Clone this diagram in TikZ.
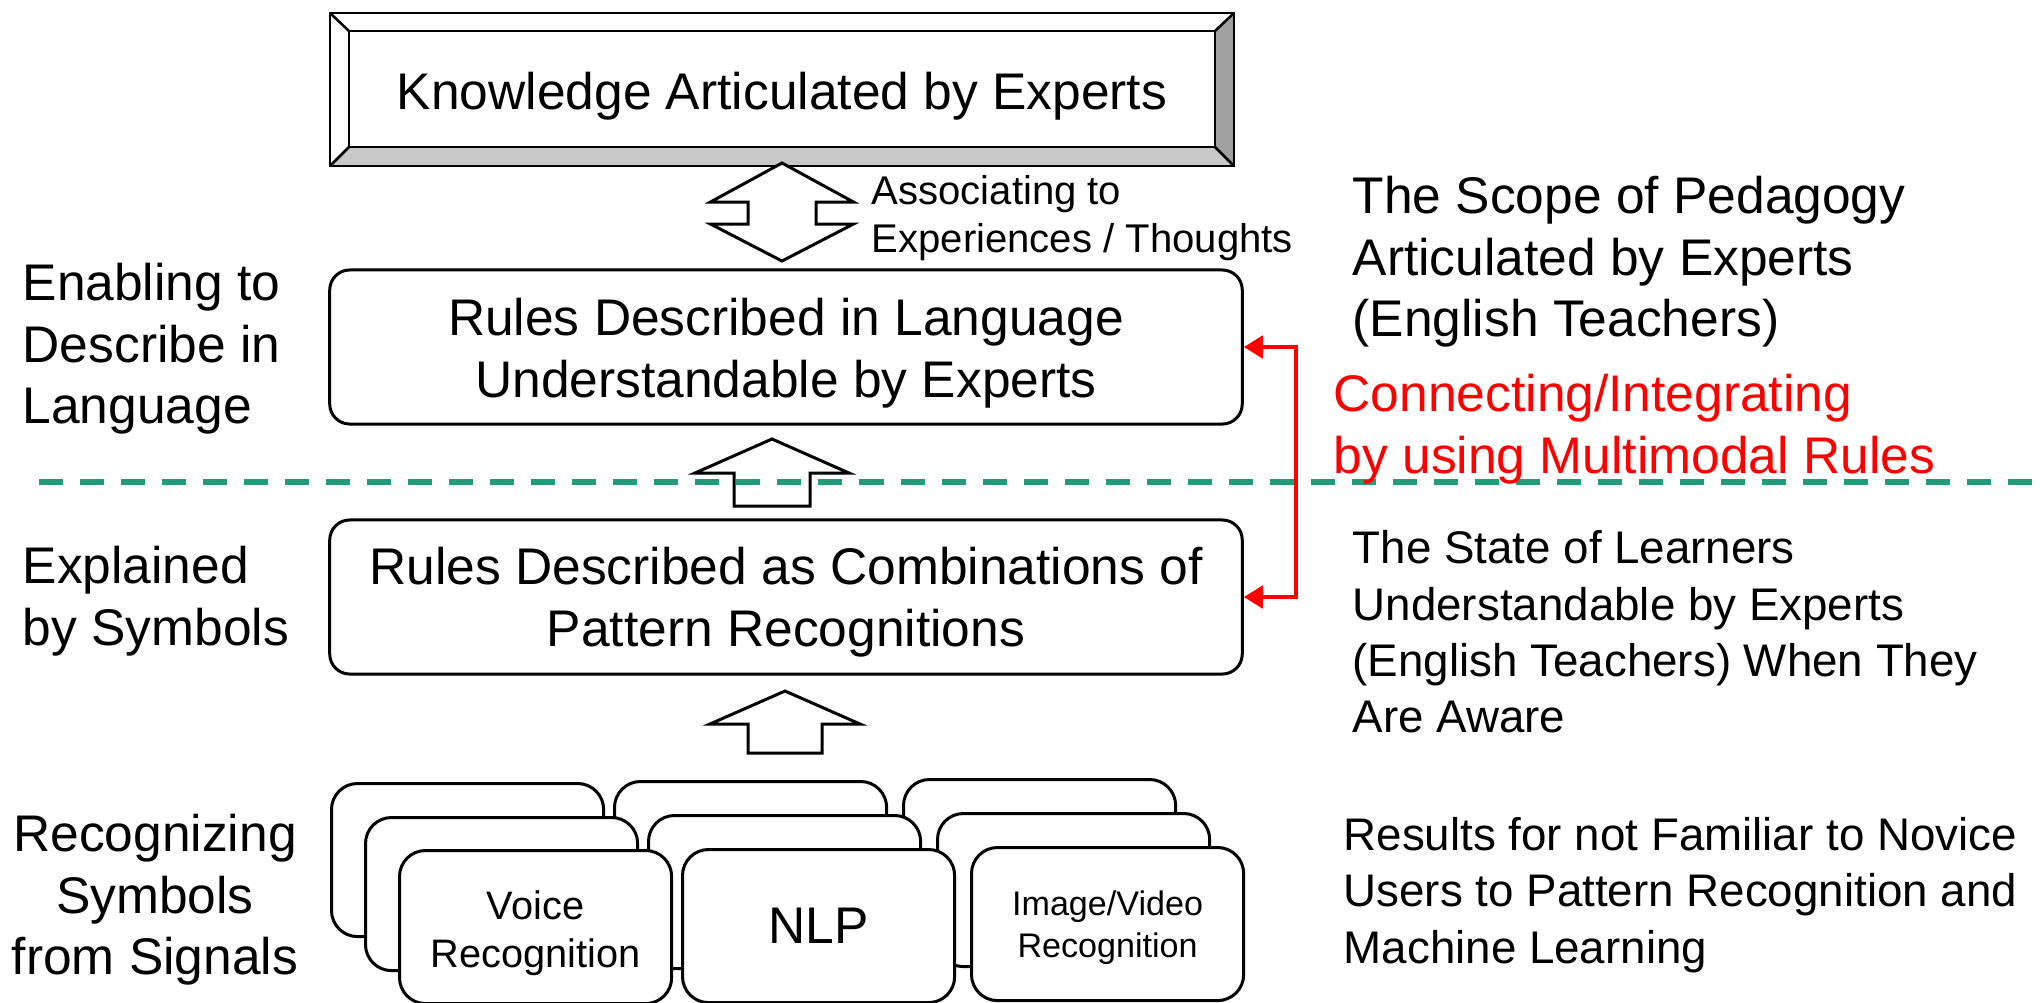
\documentclass[tikz,border=0pt]{standalone}
\usepackage{fontspec}
\setmainfont{Liberation Sans}
\usetikzlibrary{arrows.meta,calc}
\definecolor{divgreen}{RGB}{34,155,120}
\definecolor{bevdark}{RGB}{160,160,160}
\definecolor{bevlight}{RGB}{200,200,200}
\newcommand{\fbig}{\fontsize{14.65pt}{17.5pt}\selectfont}
\newcommand{\fmid}{\fontsize{13pt}{16pt}\selectfont}
\newcommand{\fsmall}{\fontsize{11.4pt}{13.7pt}\selectfont}
\newcommand{\fvoice}{\fontsize{11.3pt}{13.7pt}\selectfont}
\newcommand{\fimg}{\fontsize{9.7pt}{11.9pt}\selectfont}
\begin{document}
\begin{tikzpicture}[x=0.01cm,y=-0.01cm,
  rulebox/.style={draw,line width=0.03cm,rounded corners=0.2cm,fill=white,
    minimum width=9.12cm,minimum height=1.54cm},
  ruletext/.style={inner sep=0,align=center,font=\fbig},
  stackbox/.style={draw,line width=0.03cm,rounded corners=0.26cm,fill=white,
    minimum width=2.72cm,minimum height=1.53cm,inner sep=0},
  cardtext/.style={inner sep=0,align=center},
  blockarrow/.style={draw,line width=0.03cm,fill=white,line join=miter},
  bevel/.style={draw,line width=0.025cm,line join=miter},
  lefttext/.style={anchor=west,inner sep=0,align=left},
  redconn/.style={red,line width=0.045cm,{Triangle[length=0.19cm,width=0.22cm]}-{Triangle[length=0.19cm,width=0.22cm]}},
  divider/.style={divgreen,line width=0.06cm,dash pattern=on 0.24cm off 0.17cm}]
\useasboundingbox (0,0) rectangle (2044,1002);

% bevelled box at the top
\coordinate (o1) at (330,13);
\coordinate (o2) at (1234,13);
\coordinate (o3) at (1234,166);
\coordinate (o4) at (330,166);
\coordinate (i1) at (349,31);
\coordinate (i2) at (1215,31);
\coordinate (i3) at (1215,147);
\coordinate (i4) at (349,147);
\fill[white] (o1) -- (o2) -- (i2) -- (i1) -- cycle;
\fill[white] (o1) -- (i1) -- (i4) -- (o4) -- cycle;
\fill[bevdark] (o2) -- (o3) -- (i3) -- (i2) -- cycle;
\fill[bevlight] (o4) -- (i4) -- (i3) -- (o3) -- cycle;
\draw[bevel] (o1) rectangle (o3);
\draw[bevel] (i1) rectangle (i3);
\draw[bevel] (o1) -- (i1) (o2) -- (i2) (o3) -- (i3) (o4) -- (i4);
\node[font=\fbig,inner sep=0] (know) at (782,96) {Knowledge Articulated by Experts};

% double block arrow and its label
\draw[blockarrow] (782,163) -- (853.5,202) -- (816,202) -- (816,224) -- (853.5,224)
  -- (782,261) -- (710.5,224) -- (748,224) -- (748,202) -- (710.5,202) -- cycle;
\node[lefttext,font=\fsmall] (assoc) at (871,218) {Associating to\\Experiences / Thoughts};

% the two rule boxes
\node[rulebox] (lang) at (786,347) {};
\node[ruletext] (langtext) at (786,353) {Rules Described in Language\\Understandable by Experts};
\node[rulebox] (combo) at (786,597) {};
\node[ruletext] (combotext) at (786,602) {Rules Described as Combinations of\\Pattern Recognitions};

% upward block arrows
\draw[blockarrow] (772,439) -- (849,473) -- (810,473) -- (810,506) -- (734,506)
  -- (734,473) -- (695,473) -- cycle;
\draw[blockarrow] (785,691) -- (860,724) -- (822,724) -- (822,753) -- (748,753)
  -- (748,724) -- (710,724) -- cycle;

% dashed divider
\coordinate (divL) at (39,482);
\coordinate (divR) at (2044,482);
\draw[divider] (divL) -- (divR);

% red connector between the rule boxes
\draw[redconn] (lang.east) -- ++(52,0) |- (combo.east);

% stacked recognizer cards: back layer, middle layer, front layer
\node[stackbox,anchor=north west] (v3) at (330,782) {};
\node[stackbox,anchor=north west] (n3) at (613,780) {};
\node[stackbox,anchor=north west] (m3) at (902,778) {};
\node[stackbox,anchor=north west] (v2) at (364,816) {};
\node[stackbox,anchor=north west] (n2) at (647,814) {};
\node[stackbox,anchor=north west] (m2) at (936,812) {};
\node[stackbox,anchor=north west] (v1) at (398,849) {};
\node[stackbox,anchor=north west] (n1) at (681,848) {};
\node[stackbox,anchor=north west] (m1) at (970,846) {};
\node[cardtext,font=\fvoice] (v1text) at ($(v1.center)+(0,6)$) {Voice\\Recognition};
\node[cardtext,font=\fbig] (n1text) at (n1.center) {NLP};
\node[cardtext,font=\fimg] (m1text) at ($(m1.center)+(0,4)$) {Image/Video\\Recognition};

% left column
\node[lefttext,font=\fbig] (enab) at (22,349) {Enabling to\\Describe in\\Language};
\node[lefttext,font=\fbig] (expl) at (22,601) {Explained\\by Symbols};
\node[inner sep=0,align=center,font=\fbig] (recog) at (155,900) {Recognizing\\Symbols\\from Signals};

% right column
\node[lefttext,font=\fbig] (scope) at (1352,262) {The Scope of Pedagogy\\Articulated by Experts\\(English Teachers)};
\node[lefttext,font=\fbig,text=red] (conn) at (1333,429) {Connecting/Integrating\\by using Multimodal Rules};
\node[lefttext,font=\fmid] (state) at (1352,632) {The State of Learners\\Understandable by Experts\\(English Teachers) When They\\Are Aware};
\node[lefttext,font=\fmid] (res) at (1343,895) {Results for not Familiar to Novice\\Users to Pattern Recognition and\\Machine Learning};
\end{tikzpicture}
\end{document}
